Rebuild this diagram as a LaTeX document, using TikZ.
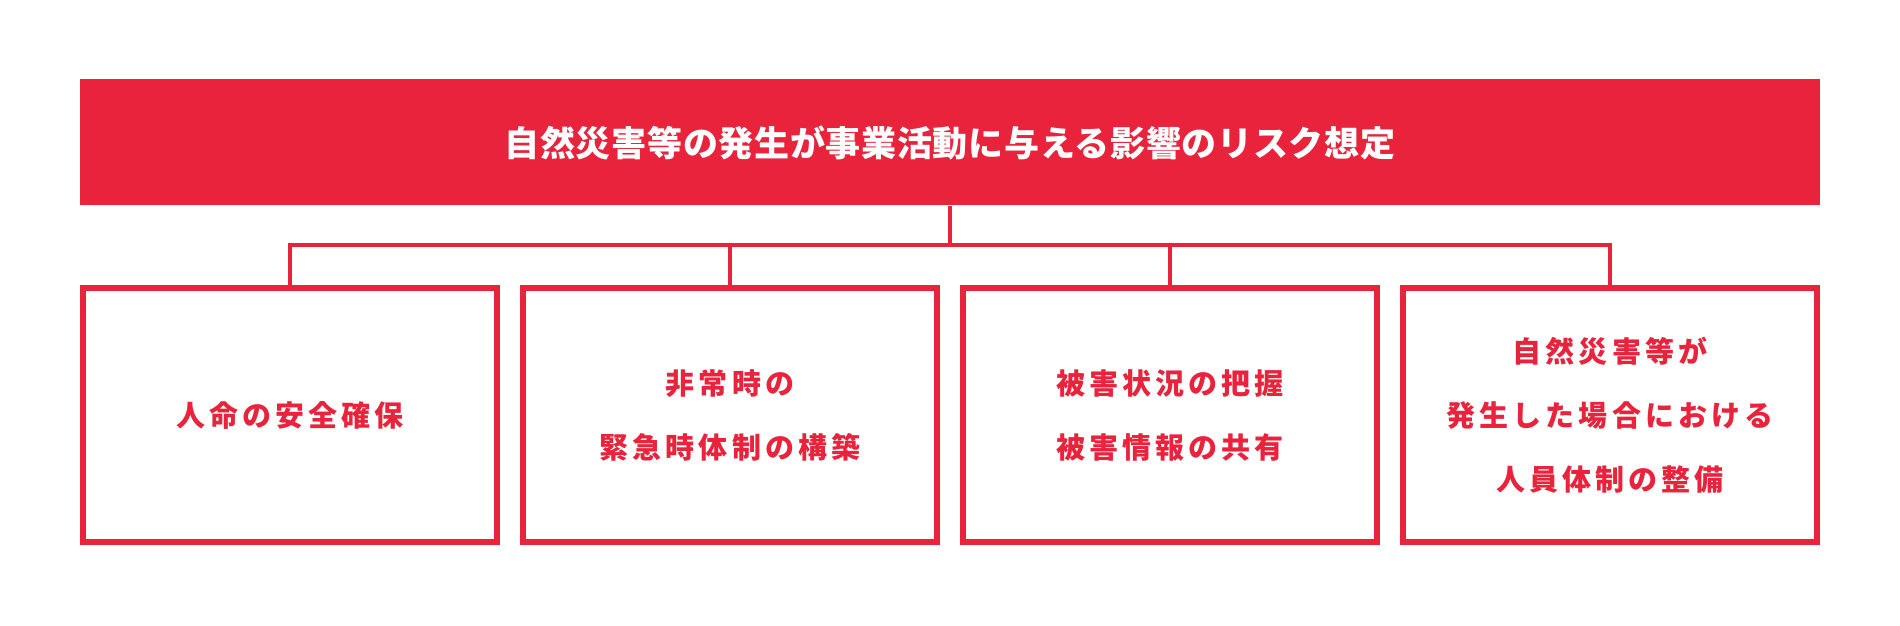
\documentclass[tikz,border=0pt]{standalone}
\usepackage{fontspec}
\usepackage{tikz}
\usetikzlibrary{positioning}
\newfontfamily\jpfont{Noto Sans CJK JP}
\definecolor{riskred}{RGB}{232,35,59}
\tikzstyle{headbar} = [fill=riskred, text=white, inner sep=0pt,
minimum width=870pt, minimum height=63pt,
font={\jpfont\bfseries\fontsize{17.5}{20}\selectfont\addfontfeature{LetterSpace=2}}]
\tikzstyle{riskbox} = [draw=riskred, line width=3pt, text=riskred, align=center,
inner sep=0pt, minimum width=207pt, minimum height=127pt,
font={\jpfont\bfseries\fontsize{14.5}{32}\selectfont\addfontfeature{LetterSpace=14}}]
\tikzstyle{link} = [draw=riskred, line width=2pt]

\begin{document}
\begin{tikzpicture}[x=0.5pt, y=0.5pt]
    \useasboundingbox (0,0) rectangle (1900,626);
    \node [headbar] (head) at (950,483.5) {自然災害等の発生が事業活動に与える影響のリスク想定};
    \node [riskbox] (life) at (290,211) {人命の安全確保};
    \node [riskbox, right=10pt of life] (emerg) {非常時の\\緊急時体制の構築};
    \node [riskbox, right=10pt of emerg] (damage) {被害状況の把握\\被害情報の共有};
    \node [riskbox, right=10pt of damage] (staff) {自然災害等が\\発生した場合における\\人員体制の整備};
    \coordinate (bus) at (950,380.7);
	%% Links
    \path [link] (head.south) -- (head.south |- bus);
    \path [link] ([xshift=-1pt]life.north |- bus) -- ([xshift=1pt]staff.north |- bus);
    \path [link] (life.north |- bus) -- (life.north);
    \path [link] (emerg.north |- bus) -- (emerg.north);
    \path [link] (damage.north |- bus) -- (damage.north);
    \path [link] (staff.north |- bus) -- (staff.north);
\end{tikzpicture}
\end{document}
